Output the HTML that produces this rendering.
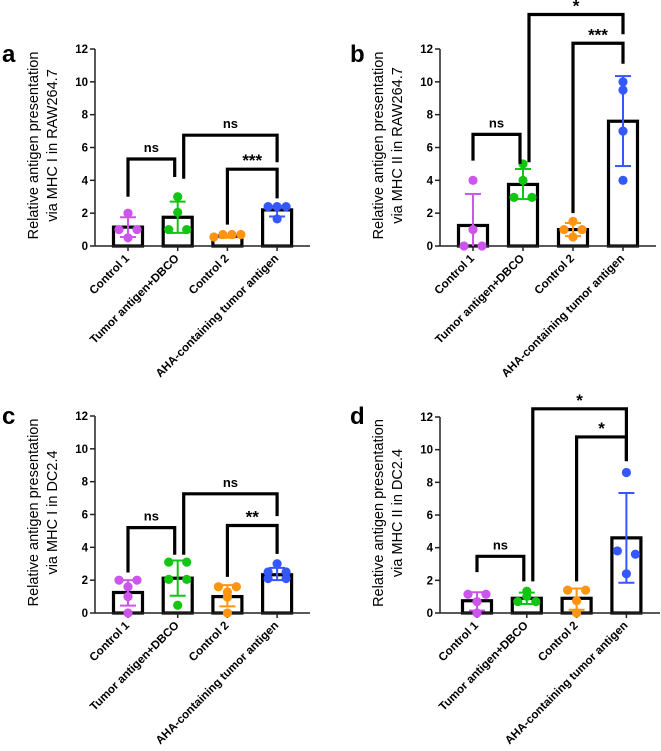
<!DOCTYPE html>
<html><head><meta charset="utf-8"><style>
body{margin:0;background:#fff}
svg{display:block;font-family:"Liberation Sans",sans-serif}
</style></head><body>
<svg id="fig" width="661" height="751" viewBox="0 0 661 751"></svg>
<script>
const categories = ["Control 1","Tumor antigen+DBCO","Control 2","AHA-containing tumor antigen"];
const yTicks = [0,2,4,6,8,10,12];
const colors = ["#cc55ee","#11c611","#ff9410","#3557ff"];

const aMeans = [1.15,1.75,0.6,2.2];
const aErr = [[0.55,1.75],[0.8,2.7],[0.5,0.7],[1.8,2.4]];
const aPoints = [[2.0,1.0,1.0,0.5],[3.0,2.05,1.0,1.0],[0.55,0.7,0.7,0.7],[2.4,2.4,2.4,1.65]];

const bMeans = [1.25,3.75,1.0,7.6];
const bErr = [[0,3.17],[2.86,4.69],[0.6,1.4],[4.87,10.35]];
const bPoints = [[4.0,1.0,0,0],[5.0,4.0,2.96,2.96],[1.5,1.0,1.0,0.55],[10.0,9.5,7.0,4.0]];

const cMeans = [1.25,2.12,1.0,2.33];
const cErr = [[0.45,2.0],[1.05,3.2],[0.4,1.7],[2.0,2.75]];
const cPoints = [[2.0,2.0,1.6,1.0,0],[3.1,3.1,2.05,2.05,0.47],[1.6,1.6,1.28,0.97,0],[3.0,2.5,2.5,2.1,2.1]];

const dMeans = [0.75,0.9,0.9,4.6];
const dErr = [[0.15,1.27],[0.55,1.25],[0.2,1.5],[1.85,7.35]];
const dPoints = [[1.15,1.15,0.7,0],[1.33,1.02,0.7,0.7],[1.4,1.4,0.75,0],[8.6,3.8,3.6,2.4]];

// brackets: [fromIdx, toIdx, top, leftBottom, rightBottom, label]
const aBrackets = [[0,1,5.3,3.0,4.2,"ns"],[1,3,6.75,4.1,5.1,"ns"],[2,3,4.68,1.3,2.9,"***"]];
const bBrackets = [[0,1,6.8,5.2,5.0,"ns"],[1,3,14.1,5.1,12.9,"*"],[2,3,12.35,2.0,11.1,"***"]];
const cBrackets = [[0,1,5.2,2.47,3.55,"ns"],[1,3,7.26,3.55,5.9,"ns"],[2,3,5.33,2.2,3.6,"**"]];
const dBrackets = [[0,1,3.47,2.5,1.94,"ns"],[1,3,12.5,1.94,9.3,"*"],[2,3,10.78,1.94,9.3,"*"]];

const panels = [
 {id:"a",ax:95,y0:246,y12:49,right:310,cx0:128,step:49.7,lx:2,ly:62,yl:["Relative antigen presentation","via MHC I in RAW264.7"],m:aMeans,e:aErr,p:aPoints,b:aBrackets},
 {id:"b",ax:440,y0:246,y12:49,right:656,cx0:473,step:50,lx:350,ly:62,yl:["Relative antigen presentation","via MHC II in RAW264.7"],m:bMeans,e:bErr,p:bPoints,b:bBrackets},
 {id:"c",ax:95,y0:613,y12:416,right:310,cx0:128,step:49.7,lx:2,ly:424,yl:["Relative antigen presentation","via MHC I in DC2.4"],m:cMeans,e:cErr,p:cPoints,b:cBrackets},
 {id:"d",ax:440,y0:613,y12:417,right:660,cx0:477,step:49.8,lx:350,ly:424,yl:["Relative antigen presentation","via MHC II in DC2.4"],m:dMeans,e:dErr,p:dPoints,b:dBrackets}
];
const NS="http://www.w3.org/2000/svg";
const svg=document.getElementById('fig');
function mk(tag,attrs,parent,text){const el=document.createElementNS(NS,tag);for(const k in attrs)el.setAttribute(k,attrs[k]);if(text!==undefined)el.textContent=text;parent.appendChild(el);return el;}

panels.forEach(P=>{
  const g=mk('g',{},svg);
  
  
  const y=v=>P.y0-(v/12)*(P.y0-P.y12);
  const x=i=>P.cx0+i*P.step;
  const L=mk('text',{x:P.lx,y:P.ly,'font-size':24,'font-weight':'bold'},g,P.id);
  
  
  const cy=(P.y0+P.y12)/2-2;
  P.yl.forEach((t,k)=>{
    const tx=P.ax-57+k*19;
    const yt=mk('text',{x:tx,y:cy,'font-size':14.5,'text-anchor':'middle',transform:`rotate(-90 ${tx} ${cy})`},g,t);
    
    
  });
  const ya=mk('line',{x1:P.ax,y1:P.y0,x2:P.ax,y2:P.y12,stroke:'#222','stroke-width':1.5},g);
  
  
  yTicks.forEach(t=>{
    mk('line',{x1:P.ax-5,y1:y(t),x2:P.ax,y2:y(t),stroke:'#222','stroke-width':1.5},g);
    const tl=mk('text',{x:P.ax-7,y:y(t)+4,'font-size':11.5,'font-weight':'bold','text-anchor':'end'},g,String(t));
    
    
  });
  P.m.forEach((v,i)=>{
    const r=mk('rect',{x:x(i)-14.5,y:y(v),width:29,height:P.y0-y(v),fill:'#fff',stroke:'#000','stroke-width':3.2},g);
    
    
  });
  const xa=mk('line',{x1:P.ax,y1:P.y0,x2:P.right,y2:P.y0,stroke:'#222','stroke-width':1.5},g);
  
  
  categories.forEach((c,i)=>{
    mk('line',{x1:x(i),y1:P.y0,x2:x(i),y2:P.y0+5,stroke:'#222','stroke-width':1.5},g);
    const tx=x(i)+2,ty=P.y0+13;
    const cl=mk('text',{x:tx,y:ty,'font-size':11.6,'font-weight':'bold','text-anchor':'end',transform:`rotate(-45 ${tx} ${ty})`},g,c);
    
    
  });
  P.p.forEach((arr,i)=>{
    const groups=[];
    arr.forEach(v=>{
      let gr=groups.find(G=>Math.abs(G.v-v)<0.25);
      if(gr) gr.n.push(v); else groups.push({v:v,n:[v]});
    });
    groups.forEach(G=>{
      const k=G.n.length;
      G.n.forEach((v,j)=>{
        const dx=k===1?0:(j-(k-1)/2)*(k===2?18:9);
        const c=mk('circle',{cx:x(i)+dx,cy:y(v),r:4.6,fill:colors[i]},g);
        
        
      });
    });
    const [lo,hi]=P.e[i];
    const eg=mk('g',{stroke:colors[i],'stroke-width':2},g);
    
    
    mk('line',{x1:x(i),y1:y(lo),x2:x(i),y2:y(hi)},eg);
    mk('line',{x1:x(i)-8,y1:y(hi),x2:x(i)+8,y2:y(hi)},eg);
    if(lo>0.05) mk('line',{x1:x(i)-8,y1:y(lo),x2:x(i)+8,y2:y(lo)},eg);
  });
  P.b.forEach(b=>{
    const [f,t,top,lb,rb,lab]=b;
    let x1=x(f),x2=x(t);
    if(f===0&&t===1) x2-=3;
    if(f===1&&t===3) x1+=6;
    const pth=mk('path',{d:`M${x1},${y(lb)}V${y(top)}H${x2}V${y(rb)}`,fill:'none',stroke:'#000','stroke-width':3.2},g);
    
    
    const isStar=lab.indexOf('*')>=0;
    const st=mk('text',{x:(x1+x2)/2,y:isStar?y(top)-3:y(top)-7,'font-size':isStar?17:13,'font-weight':'bold','text-anchor':'middle'},g,lab);
    
    
  });
});
</script>
</body></html>
